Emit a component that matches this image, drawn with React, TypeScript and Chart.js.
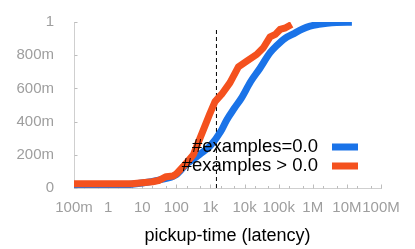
import React, { useEffect, useRef } from "react";
import { Chart, registerables } from "chart.js";

Chart.register(...registerables);

// ---- data ----
const seriesLabels = ["#examples=0.0", "#examples > 0.0"];
const seriesColors = ["#1a73e8", "#f4511e"];

const blueLatency = [0.1, 0.3, 1, 3, 10, 30, 100, 200, 300, 500, 1000, 2000, 3000, 5000, 8000, 15000, 28000, 56000, 90000, 150000, 260000, 500000, 830000, 1.5e6, 2.6e6, 5e6, 1.4e7];
const blueFraction = [0.012, 0.012, 0.013, 0.018, 0.03, 0.048, 0.08, 0.145, 0.17, 0.205, 0.255, 0.34, 0.41, 0.48, 0.54, 0.64, 0.72, 0.815, 0.86, 0.9, 0.927, 0.958, 0.975, 0.986, 0.993, 0.997, 0.998];

const orangeLatency = [0.1, 5, 10, 20, 30, 50, 80, 100, 160, 315, 620, 970, 1360, 2140, 3750, 6600, 11600, 22800, 35600, 56000, 80000, 110000, 160000, 240000];
const orangeFraction = [0.025, 0.025, 0.032, 0.038, 0.045, 0.068, 0.072, 0.085, 0.13, 0.2, 0.35, 0.45, 0.52, 0.565, 0.635, 0.73, 0.765, 0.805, 0.845, 0.91, 0.925, 0.955, 0.965, 0.985];

const markerLatency = 1500;
const markerRange = [0, 0.965];

const xTickValues = [0.1, 1, 10, 100, 1e3, 1e4, 1e5, 1e6, 1e7, 1e8];
const xTickLabels = ["100m", "1", "10", "100", "1k", "10k", "100k", "1M", "10M", "100M"];
const xMinorMultipliers = [2, 5];
const yTickValues = [0, 0.2, 0.4, 0.6, 0.8, 1];
const yTickLabels = ["0", "200m", "400m", "600m", "800m", "1"];
const xTitle = "pickup-time (latency)";

const FONT = "'Liberation Sans', Arial, Helvetica, sans-serif";

const tickMarksPlugin = {
  id: "tickMarks",
  beforeDatasetsDraw(chart: any) {
    const { ctx, chartArea, scales } = chart;
    const xs = scales.x;
    const ys = scales.y;
    ctx.save();
    ctx.strokeStyle = "#bdbdbd";
    ctx.lineWidth = 1;
    ctx.beginPath();
    const yb = Math.round(chartArea.bottom) + 0.5;
    xTickValues.forEach((v, i) => {
      const px = Math.round(xs.getPixelForValue(v)) + 0.5;
      ctx.moveTo(px, yb);
      ctx.lineTo(px, yb - 4);
      if (i < xTickValues.length - 1) {
        xMinorMultipliers.forEach((m) => {
          const mx = Math.round(xs.getPixelForValue(v * m)) + 0.5;
          ctx.moveTo(mx, yb);
          ctx.lineTo(mx, yb - 2.5);
        });
      }
    });
    const xl = Math.round(chartArea.left) + 0.5;
    yTickValues.forEach((v) => {
      const py = Math.round(ys.getPixelForValue(v)) + 0.5;
      ctx.moveTo(xl, py);
      ctx.lineTo(xl + 3, py);
    });
    ctx.stroke();
    ctx.restore();
  },
};

const innerLegendPlugin = {
  id: "innerLegend",
  afterDatasetsDraw(chart: any) {
    const { ctx, chartArea } = chart;
    const textRight = chartArea.right - 63;
    const swatchLeft = chartArea.right - 49;
    const rowsY = [chartArea.top + 125, chartArea.top + 144];
    ctx.save();
    ctx.font = `18.5px ${FONT}`;
    ctx.textAlign = "right";
    ctx.textBaseline = "middle";
    seriesLabels.forEach((label, i) => {
      ctx.fillStyle = "#000";
      ctx.fillText(label, textRight, rowsY[i]);
      ctx.fillStyle = seriesColors[i];
      ctx.fillRect(swatchLeft, rowsY[i] - 3.5, 26, 7);
    });
    ctx.restore();
  },
};

export default function App() {
  const canvasRef = useRef<HTMLCanvasElement | null>(null);

  useEffect(() => {
    if (!canvasRef.current) return;
    const chart = new Chart(canvasRef.current, {
      type: "line",
      data: {
        datasets: [
          {
            label: seriesLabels[1],
            data: orangeLatency.map((x, i) => ({ x, y: orangeFraction[i] })),
            borderColor: seriesColors[1],
            backgroundColor: seriesColors[1],
            borderWidth: 7,
            pointRadius: 0,
            tension: 0,
            borderJoinStyle: "round",
            order: 1,
          },
          {
            label: seriesLabels[0],
            data: blueLatency.map((x, i) => ({ x, y: blueFraction[i] })),
            borderColor: seriesColors[0],
            backgroundColor: seriesColors[0],
            borderWidth: 7,
            pointRadius: 0,
            cubicInterpolationMode: "monotone",
            order: 2,
          },
          {
            label: "marker",
            data: markerRange.map((y) => ({ x: markerLatency, y })),
            borderColor: "#000",
            borderWidth: 1,
            borderDash: [4, 3],
            pointRadius: 0,
            order: 3,
          },
        ],
      },
      options: {
        responsive: false,
        animation: false,
        events: [],
        layout: { padding: { top: 22, right: 34, left: 0, bottom: 0 } },
        plugins: {
          legend: { display: false },
          tooltip: { enabled: false },
        },
        scales: {
          x: {
            type: "logarithmic",
            min: 0.1,
            max: 1e8,
            afterBuildTicks: (scale: any) => {
              scale.ticks = xTickValues.map((v) => ({ value: v, major: true }));
            },
            afterFit: (scale: any) => {
              scale.height = 61;
            },
            grid: { display: false },
            border: { display: true, color: "#cfcfcf", width: 1 },
            ticks: {
              autoSkip: false,
              maxRotation: 0,
              minRotation: 0,
              padding: 3,
              color: "#9e9e9e",
              font: { family: FONT, size: 15 },
              callback: (_v: any, i: number) => xTickLabels[i],
            },
            title: {
              display: true,
              text: xTitle,
              color: "#000",
              font: { family: FONT, size: 18 },
              padding: { top: 0, bottom: 2 },
            },
          },
          y: {
            type: "linear",
            min: 0,
            max: 1,
            afterBuildTicks: (scale: any) => {
              scale.ticks = yTickValues.map((v) => ({ value: v }));
            },
            afterFit: (scale: any) => {
              scale.width = 74;
            },
            grid: { display: false },
            border: { display: true, color: "#cfcfcf", width: 1 },
            ticks: {
              padding: 12,
              color: "#9e9e9e",
              font: { family: FONT, size: 15 },
              callback: (_v: any, i: number) => yTickLabels[i],
            },
          },
        },
      },
      plugins: [tickMarksPlugin, innerLegendPlugin],
    } as any);
    return () => chart.destroy();
  }, []);

  return (
    <div style={{ position: "fixed", left: 0, top: 0, width: 415, height: 249, background: "#fff" }}>
      <canvas ref={canvasRef} width={415} height={249} style={{ display: "block" }} />
    </div>
  );
}
